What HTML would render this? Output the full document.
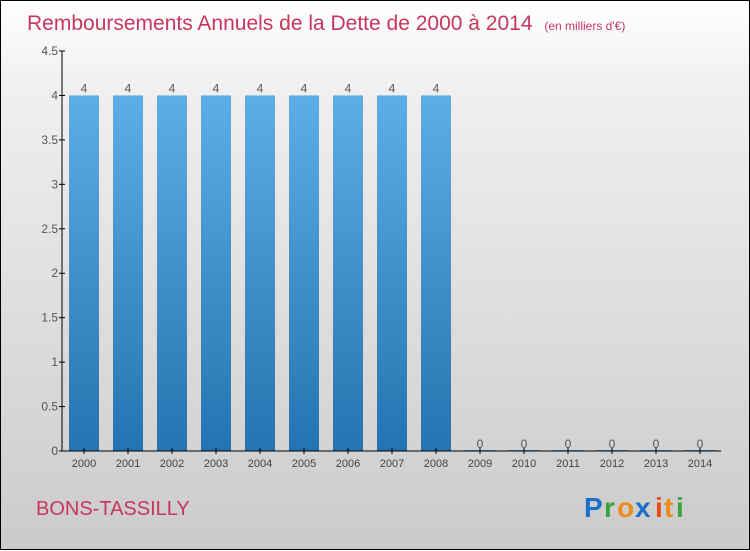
<!DOCTYPE html>
<html><head><meta charset="utf-8"><style>
body{margin:0;width:750px;height:550px;overflow:hidden}
#wrap{position:relative;width:748px;height:548px;border:1px solid #000;background:linear-gradient(#fff,#f0f0f0 15%,#cbcbcb)}
svg{position:absolute;left:0;top:0;font-family:"Liberation Sans",sans-serif}
</style></head><body>
<div id="wrap">
<svg id="chart" width="750" height="550">
<defs><linearGradient id="bg" x1="0" y1="0" x2="0" y2="1"><stop offset="0" stop-color="#5dade6"/><stop offset="1" stop-color="#2573b0"/></linearGradient></defs>
<text x="26" y="29" font-size="21" fill="#c8365f">Remboursements Annuels de la Dette de 2000 à 2014 <tspan font-size="12" dx="6">(en milliers d'€)</tspan></text>
<text x="35" y="514" font-size="20" fill="#c8365f">BONS-TASSILLY</text>
<g font-size="28" font-weight="bold" font-family="'Liberation Sans',sans-serif">
<text x="583" y="516" fill="#1a6fc9">P</text><text x="603" y="516" fill="#3aa33a">r</text><text x="616" y="516" fill="#f08a1a">o</text><text x="634" y="516" fill="#1a6fc9">x</text><text x="654" y="516" fill="#e84a1a">i</text><text x="663" y="516" fill="#f08a1a">t</text><text x="675" y="516" fill="#3aa33a">i</text></g>
<g id="marks"></g>
</svg></div>
<script>
const years=["2000","2001","2002","2003","2004","2005","2006","2007","2008","2009","2010","2011","2012","2013","2014"];
const values=[4,4,4,4,4,4,4,4,4,0,0,0,0,0,0];
const yTicks=[0,0.5,1,1.5,2,2.5,3,3.5,4,4.5];
const yTickLabels=["0","0.5","1","1.5","2","2.5","3","3.5","4","4.5"];
const NS="http://www.w3.org/2000/svg",g=document.getElementById('marks');
const y=v=>450-v*(400/4.5), x=i=>83+i*44;
function mk(t,a,txt){const e=document.createElementNS(NS,t);for(const k in a)e.setAttribute(k,a[k]);if(txt!==undefined)e.textContent=txt;g.appendChild(e);return e;}
values.forEach((v,i)=>{
 const h=Math.max(450-y(v),1);
 const r=mk('rect',{x:x(i)-15,y:450-h,width:30,height:h,fill:'url(#bg)'});
 
 
 const t=mk('text',{x:x(i),y:y(v)-3,'text-anchor':'middle','font-size':12,fill:'#555'},String(v));
 
 
 const l=mk('text',{x:x(i),y:466,'text-anchor':'middle','font-size':11,fill:'#444'},years[i]);
 
 
 const tk=mk('line',{x1:x(i),x2:x(i),y1:447,y2:453,stroke:'#000'});
 
 
});
yTicks.forEach((v,i)=>{
 const t=mk('text',{x:57,y:y(v)+4,'text-anchor':'end','font-size':12,fill:'#555'},yTickLabels[i]);
 
 
 const tk=mk('line',{x1:58,x2:64,y1:y(v),y2:y(v),stroke:'#000'});
 
 
});
const ya=mk('line',{x1:61,x2:61,y1:50,y2:450,stroke:'#000'});


const xa=mk('line',{x1:61,x2:720,y1:450,y2:450,stroke:'#000'});


</script>
</body></html>
